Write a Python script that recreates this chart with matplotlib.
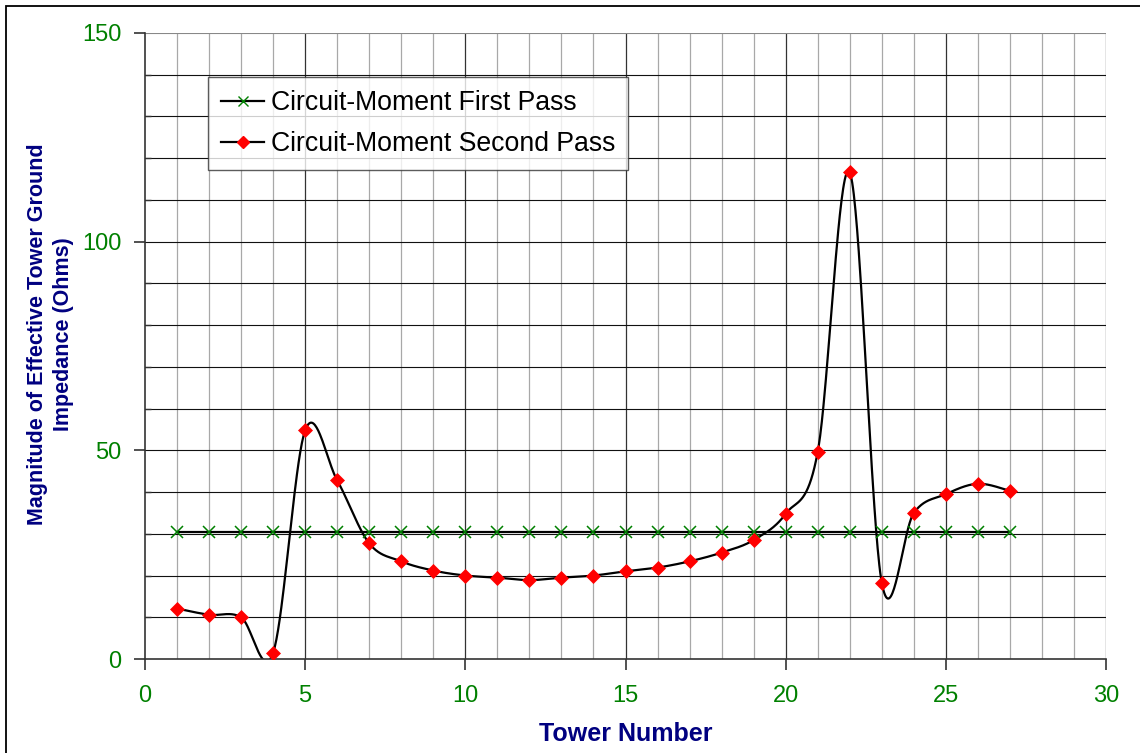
import numpy as np
import matplotlib
matplotlib.use("Agg")
import matplotlib.pyplot as plt
from matplotlib.ticker import MultipleLocator
from matplotlib.patches import Rectangle

plt.rcParams['font.family'] = ['Liberation Sans', 'DejaVu Sans']

# data
towers = list(range(1, 28))
first_pass = [30.5] * 27
second_pass = [12.1, 10.6, 10.0, 1.5, 54.8, 42.8, 27.7, 23.4, 21.2, 20.0,
               19.5, 18.9, 19.5, 20.0, 21.0, 21.9, 23.4, 25.5, 28.5, 34.8,
               49.6, 116.6, 18.3, 35.0, 39.5, 42.0, 40.3]

label_first = "Circuit-Moment First Pass"
label_second = "Circuit-Moment Second Pass"
x_label = "Tower Number"
y_label = "Magnitude of Effective Tower Ground\nImpedance (Ohms)"

green = "#008000"
navy = "#000080"


# excel style smoothed line (bezier through the points)
def excel_smooth(x, y, n=40):
    pts = np.column_stack([x, y]).astype(float)
    ext = np.vstack([pts[0], pts, pts[-1]])
    out = []
    t = np.linspace(0, 1, n)[:, None]
    for i in range(len(pts) - 1):
        p0, p1, p2, p3 = ext[i], ext[i + 1], ext[i + 2], ext[i + 3]
        c1 = p1 + (p2 - p0) / 6.0
        c2 = p2 - (p3 - p1) / 6.0
        seg = ((1 - t) ** 3) * p1 + 3 * ((1 - t) ** 2) * t * c1 \
            + 3 * (1 - t) * t ** 2 * c2 + t ** 3 * p2
        out.append(seg if i == 0 else seg[1:])
    out = np.vstack(out)
    return out[:, 0], out[:, 1]


fig = plt.figure(figsize=(11.4, 7.53), dpi=100)
ax = fig.add_axes([145 / 1140, 1 - 659 / 753, 961 / 1140, 626 / 753])

# outer chart border
fig.patches.append(Rectangle((6 / 1140, -0.1), 1.2, 1 - 6 / 753 + 0.1,
                             transform=fig.transFigure, fill=False,
                             edgecolor="black", linewidth=1.3))

ax.set_xlim(0, 30)
ax.set_ylim(0, 150)

# grid
for v in range(1, 31):
    col = "#333333" if v % 5 == 0 else "#a8a8a8"
    ax.axvline(v, color=col, linewidth=0.9, zorder=0)
for h in range(10, 151, 10):
    col = "#888888" if h == 150 else "#111111"
    ax.axhline(h, color=col, linewidth=0.8, zorder=0)

# first pass
ax.plot(towers, first_pass, color="black", linewidth=1.6, zorder=2)
ax.plot(towers, first_pass, linestyle="none", marker="x", markersize=9,
        markeredgecolor=green, markeredgewidth=1.1, zorder=3)

# second pass
sx, sy = excel_smooth(towers, second_pass)
ax.plot(sx, sy, color="black", linewidth=1.6, zorder=2)
ax.plot(towers, second_pass, linestyle="none", marker="D", markersize=7,
        markerfacecolor="red", markeredgecolor="red", markeredgewidth=0.5,
        zorder=4)

# legend handles
h1, = ax.plot([], [], color="black", linewidth=1.6, marker="x",
              markersize=7, markeredgecolor=green, markeredgewidth=1.0)
h2, = ax.plot([], [], color="black", linewidth=1.6, marker="D",
              markersize=6.5, markerfacecolor="red", markeredgecolor="red")
leg = ax.legend([h1, h2], [label_first, label_second], loc="upper left",
                bbox_to_anchor=((208 - 145) / 961, (659 - 77) / 626),
                borderaxespad=0, fontsize=19.2, frameon=True, fancybox=False,
                handlelength=1.6, handletextpad=0.25, labelspacing=0.55,
                borderpad=0.5)
leg.get_frame().set_edgecolor("#333333")
leg.get_frame().set_linewidth(1.0)
leg.set_zorder(10)

# spines
for s in ["top", "right"]:
    ax.spines[s].set_visible(False)
ax.spines["left"].set_color("#333333")
ax.spines["bottom"].set_color("#333333")
ax.spines["left"].set_linewidth(1.2)
ax.spines["bottom"].set_linewidth(1.2)

ax.xaxis.set_major_locator(MultipleLocator(5))
ax.yaxis.set_major_locator(MultipleLocator(50))
ax.yaxis.set_minor_locator(MultipleLocator(10))
ax.tick_params(axis="both", which="major", direction="out", length=8,
               width=1.2, color="#333333", labelcolor=green, labelsize=17)
ax.tick_params(axis="x", which="major", pad=11)
ax.tick_params(axis="y", which="major", pad=9)
ax.tick_params(axis="y", which="minor", direction="in", length=4,
               width=1.0, color="#333333")

ax.set_xlabel(x_label, fontsize=18, fontweight="bold", color=navy)
ax.xaxis.set_label_coords(0.5, -(722 - 659) / 626)
ax.set_ylabel(y_label, fontsize=15.5, fontweight="bold", color=navy,
              linespacing=1.3)
ax.yaxis.set_label_coords(-(145 - 74) / 961, (659 - 334) / 626)

fig.savefig("out.png", dpi=100)
